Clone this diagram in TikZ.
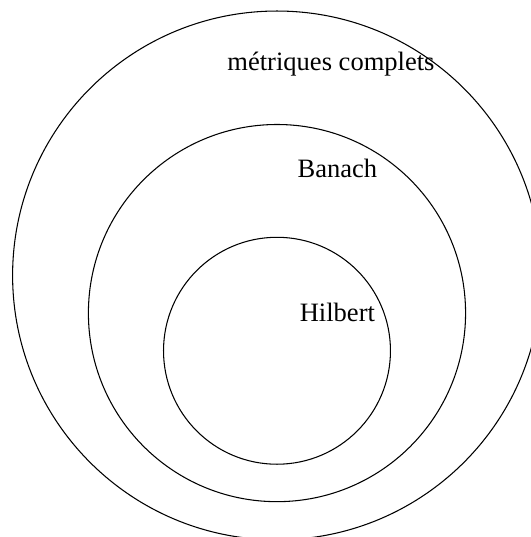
\documentclass[tikz,border=0pt]{standalone}
\usepackage{fontspec}
\setmainfont{Liberation Serif}
\begin{document}
\begin{tikzpicture}[x=1cm,y=1cm,
  ring/.style={draw=black,line width=0.4pt},
  lbl/.style={anchor=base,inner sep=0pt,font=\fontsize{10pt}{12pt}\selectfont}]
\useasboundingbox (-3.669,-3.465) rectangle (3.364,3.648);
\begin{scope}
\clip (-3.669,-3.465) rectangle (3.364,3.648);
\draw[ring] (0,0) circle (3.502);
\draw[ring] (0,-0.499) circle (2.498);
\draw[ring] (0,-0.998) circle (1.503);
\end{scope}
\node[lbl] (metr) at (0.715,2.72) {métriques complets};
\node[lbl] (ban) at (0.80,1.30) {Banach};
\node[lbl] (hil) at (0.80,-0.617) {Hilbert};
\end{tikzpicture}
\end{document}
